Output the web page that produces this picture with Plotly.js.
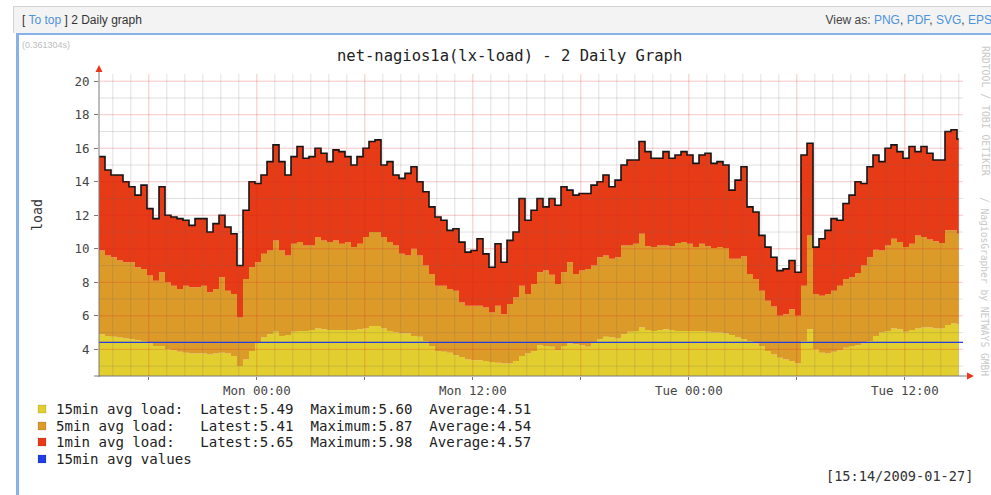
<!DOCTYPE html>
<html>
<head>
<meta charset="utf-8">
<script src="https://cdn.plot.ly/plotly-3.0.1.min.js"></script>
<style>
  html, body { margin:0; padding:0; background:#fff; width:991px; height:495px; overflow:hidden; }
  #bar { position:absolute; left:13px; top:6px; width:978px; height:26px; background:#f3f3f3;
         border-top:1px solid #d4d4d4; border-left:1px solid #d4d4d4;
         font-family:"Liberation Sans", Arial, sans-serif; font-size:12px; color:#333; }
  #bar .l { position:absolute; left:8px; top:6px; white-space:nowrap; }
  #bar .r { position:absolute; right:0px; top:6px; white-space:nowrap; color:#444; }
  #bar a { color:#4d94dd; text-decoration:none; }
  #panel { position:absolute; left:16px; top:33px; width:975px; height:462px;
           border-left:3px solid #86b2e8; border-top:2px solid #86b2e8; background:#fff; }
  #secs { position:absolute; left:22px; top:40px; font-family:"Liberation Sans", Arial, sans-serif;
          font-size:9px; color:#bdbdbd; }
  #chart { position:absolute; left:0; top:0; width:991px; height:495px; }
</style>
</head>
<body>
<div id="bar"><span class="l">[ <a>To top</a> ] 2 Daily graph</span><span class="r">View as: <a>PNG</a>, <a>PDF</a>, <a>SVG</a>, <a>EPS</a></span></div>
<div id="panel"></div>
<div id="secs">(0.361304s)</div>
<div id="chart"></div>
<script>
// ---------------- data ----------------
// 20-minute steps starting at the left edge of the graph
const startTime   = '2009-01-25 15:14';
const endTime     = '2009-01-27 15:14';
const lastDataEnd = '2009-01-27 15:00';
const stepMinutes = 20;

// 15min avg load (bottom of stack)
const load15 = [
  4.9, 4.8, 4.75, 4.7, 4.65, 4.6, 4.55, 4.5, 4.35, 4.2,
  4.2, 4.0, 3.95, 3.85, 3.8, 3.75, 3.75, 3.75, 3.7, 3.75,
  3.8, 3.75, 3.6, 3.0, 3.4, 3.9, 4.4, 4.7, 4.9, 5.05,
  4.8, 4.85, 5.05, 5.1, 5.1, 5.15, 5.25, 5.2, 5.15, 5.15,
  5.15, 5.15, 5.15, 5.2, 5.25, 5.4, 5.4, 5.25, 5.1, 5.0,
  4.95, 4.95, 4.8, 4.75, 4.5, 4.2, 3.9, 3.85, 3.8, 3.65,
  3.55, 3.4, 3.35, 3.35, 3.3, 3.25, 3.2, 3.15, 3.15, 3.3,
  3.6, 3.75, 3.9, 4.25, 4.2, 4.15, 3.95, 4.2, 4.35, 4.3,
  4.25, 4.15, 4.4, 4.6, 4.75, 4.7, 4.65, 4.9, 5.05, 5.1,
  5.3, 5.15, 5.1, 5.15, 5.2, 5.15, 5.1, 5.1, 5.1, 5.1,
  5.1, 5.05, 5.0, 5.0, 4.95, 4.85, 4.7, 4.6, 4.5, 4.35,
  4.2, 3.9, 3.7, 3.5, 3.4, 3.3, 3.15, 4.5, 5.2, 4.0,
  3.8, 3.75, 3.85, 3.95, 4.1, 4.2, 4.25, 4.35, 4.5, 4.8,
  5.0, 5.1, 5.25, 5.2, 5.05, 5.15, 5.25, 5.3, 5.3, 5.25,
  5.25, 5.45, 5.55, 5.49
];
// 5min avg load (stacked on 15min)
const load5 = [
  5.0, 4.8, 4.75, 4.6, 4.55, 4.6, 4.35, 4.3, 4.05, 3.9,
  4.4, 4.0, 3.85, 3.75, 4.0, 3.95, 3.95, 4.05, 3.7, 3.85,
  4.5, 3.75, 3.7, 2.9, 4.8, 5.0, 4.8, 5.0, 5.0, 5.45,
  5.1, 4.75, 5.25, 5.3, 5.1, 5.05, 5.45, 5.3, 5.25, 5.35,
  5.15, 5.25, 4.95, 5.1, 5.45, 5.6, 5.6, 5.45, 5.3, 5.2,
  4.75, 4.65, 5.2, 4.85, 4.5, 4.3, 3.9, 3.95, 3.8, 3.85,
  3.25, 3.2, 3.25, 3.25, 3.2, 2.95, 3.4, 2.95, 3.55, 3.8,
  4.2, 3.55, 4.0, 4.35, 4.5, 4.3, 3.95, 4.4, 4.85, 4.2,
  4.45, 4.65, 4.6, 4.9, 4.85, 4.7, 4.85, 5.3, 5.15, 5.2,
  5.6, 5.0, 5.0, 5.05, 5.0, 5.0, 5.25, 5.3, 5.2, 5.0,
  5.2, 5.1, 5.05, 5.1, 5.1, 4.55, 4.7, 4.95, 4.0, 3.85,
  3.3, 3.0, 2.85, 2.5, 2.7, 3.1, 2.85, 3.3, 5.6, 3.3,
  3.4, 3.55, 3.65, 3.85, 4.1, 4.1, 4.3, 4.65, 5.0, 5.15,
  4.9, 5.1, 5.35, 5.2, 5.05, 5.15, 5.55, 5.4, 5.25, 5.2,
  5.1, 5.65, 5.55, 5.41
];
// 1min avg load (top of stack)
const load1 = [
  5.6, 5.1, 4.9, 5.1, 4.8, 4.5, 4.3, 5.0, 4.0, 3.7,
  5.1, 4.0, 4.1, 4.2, 3.9, 3.7, 4.1, 4.0, 3.6, 3.9,
  3.7, 3.8, 3.6, 3.1, 4.1, 5.1, 4.7, 4.7, 5.3, 5.7,
  5.3, 4.8, 5.2, 5.7, 5.2, 5.3, 5.3, 5.2, 4.8, 5.4,
  5.5, 5.1, 4.9, 5.2, 5.3, 5.4, 5.5, 4.3, 4.8, 4.2,
  4.5, 4.9, 4.9, 4.4, 4.4, 4.0, 4.1, 3.9, 3.5, 3.7,
  3.6, 3.2, 3.3, 4.0, 3.2, 2.7, 3.7, 3.1, 3.8, 3.9,
  5.2, 4.4, 4.4, 4.4, 3.8, 4.55, 4.7, 5.1, 4.3, 4.7,
  4.6, 4.5, 4.8, 4.5, 4.8, 4.3, 4.6, 4.8, 5.1, 5.0,
  5.5, 5.65, 5.3, 5.2, 5.6, 5.25, 5.25, 5.4, 5.3, 5.0,
  5.3, 5.55, 5.05, 5.1, 4.95, 4.1, 4.7, 5.35, 4.0, 4.0,
  3.3, 3.2, 2.95, 2.7, 2.7, 2.9, 2.6, 7.8, 5.5, 2.8,
  3.4, 3.8, 4.3, 3.9, 4.5, 4.9, 5.45, 4.9, 5.4, 5.65,
  5.3, 5.8, 5.6, 5.4, 5.3, 5.8, 5.0, 5.4, 5.15, 4.85,
  4.95, 5.9, 6.0, 5.65
];
const hruleName  = '15min avg values';
const hruleValue = 4.42;

const seriesNames = ['15min avg load:', '5min avg load:', '1min avg load:'];
const latest  = [5.49, 5.41, 5.65];
const maximum = [5.60, 5.87, 5.98];
const average = [4.51, 4.54, 4.57];

const chartTitle = 'net-nagios1a(lx-load) - 2 Daily Graph';
const yTitle = 'load';
const stamp = '[15:14/2009-01-27]';
const watermark1 = 'RRDTOOL / TOBI OETIKER';
const watermark2 = '/ NagiosGrapher by NETWAYS GMBH';

// ---------------- styling ----------------
const C15 = '#e3ce2f', C5 = '#dc9a29', C1 = '#e73a16', CBLUE = '#1f3ee6';
const MONO = 'DejaVu Sans Mono, monospace';
const W = 991, H = 495, L = 99, R = 963, T = 74, B = 376;
const px = x => (x - L) / (R - L);
const py = y => (B - y) / (B - T);

function parse(s) {
  const [d, t] = s.split(' ');
  const [Y, M, D] = d.split('-').map(Number);
  const [h, m] = t.split(':').map(Number);
  return Date.UTC(Y, M - 1, D, h, m);
}
function fmt(ms) {
  const d = new Date(ms), p = n => String(n).padStart(2, '0');
  return d.getUTCFullYear() + '-' + p(d.getUTCMonth() + 1) + '-' + p(d.getUTCDate()) +
         ' ' + p(d.getUTCHours()) + ':' + p(d.getUTCMinutes());
}
const t0 = parse(startTime), tEnd = parse(endTime);
const times = load15.map((_, i) => fmt(t0 + i * stepMinutes * 60000));
const xs = times.concat([lastDataEnd]);           // closes the last step
const closeStep = a => a.concat([a[a.length - 1]]);

const traces = [
  { x: xs, y: closeStep(load15), type: 'scatter', mode: 'lines', stackgroup: 'load',
    line: { shape: 'hv', width: 0, color: C15 }, fillcolor: C15, hoverinfo: 'skip' },
  { x: xs, y: closeStep(load5), type: 'scatter', mode: 'lines', stackgroup: 'load',
    line: { shape: 'hv', width: 0, color: C5 }, fillcolor: C5, hoverinfo: 'skip' },
  { x: xs, y: closeStep(load1), type: 'scatter', mode: 'lines', stackgroup: 'load',
    line: { shape: 'hv', width: 1.6, color: '#151515' }, fillcolor: C1, hoverinfo: 'skip' },
  { x: [startTime, endTime], y: [hruleValue, hruleValue], type: 'scatter', mode: 'lines',
    line: { width: 1.3, color: CBLUE }, hoverinfo: 'skip' }
];

// grid drawn above the areas, as rrdtool does
const shapes = [];
const minorCol = 'rgba(105,105,105,0.20)', majorCol = 'rgba(225,35,35,0.26)';
for (let ms = Math.ceil(t0 / 3600000) * 3600000; ms < tEnd; ms += 3600000) {
  const h = new Date(ms).getUTCHours();
  shapes.push({ type: 'line', xref: 'x', yref: 'paper', x0: fmt(ms), x1: fmt(ms), y0: 0, y1: 1,
                layer: 'above', line: { color: h % 6 === 0 ? majorCol : minorCol, width: 1 } });
}
for (let v = 3; v <= 20; v++) {
  shapes.push({ type: 'line', xref: 'paper', yref: 'y', x0: 0, x1: 1, y0: v, y1: v,
                layer: 'above', line: { color: v % 2 === 0 ? majorCol : minorCol, width: 1 } });
}
// axes with arrows
shapes.push({ type: 'line', xref: 'paper', yref: 'paper', x0: 0, x1: 0, y0: py(377), y1: py(71),
              layer: 'above', line: { color: '#7a7a7a', width: 1 } });
shapes.push({ type: 'line', xref: 'paper', yref: 'paper', x0: px(94), x1: px(968), y0: 0, y1: 0,
              layer: 'above', line: { color: '#7a7a7a', width: 1 } });
shapes.push({ type: 'path', xref: 'paper', yref: 'paper', layer: 'above',
              path: `M ${px(99)},${py(65)} L ${px(95.5)},${py(72)} L ${px(102.5)},${py(72)} Z`,
              fillcolor: '#e8361a', line: { width: 0 } });
shapes.push({ type: 'path', xref: 'paper', yref: 'paper', layer: 'above',
              path: `M ${px(974)},${py(376)} L ${px(967)},${py(372.5)} L ${px(967)},${py(379.5)} Z`,
              fillcolor: '#e8361a', line: { width: 0 } });

// legend swatches + text
const annotations = [];
const rowY = [409, 426, 442, 459];
const swatchCols = [C15, C5, C1, CBLUE];
const nb = s => s.replace(/ /g, '\u00a0');
const rows = seriesNames.map((n, i) =>
  n.padEnd(17) + 'Latest:' + latest[i].toFixed(2) + '  ' +
  'Maximum:' + maximum[i].toFixed(2) + '  ' + 'Average:' + average[i].toFixed(2));
rows.push(hruleName);
rows.forEach((txt, i) => {
  shapes.push({ type: 'rect', xref: 'paper', yref: 'paper',
                x0: px(38), x1: px(46), y0: py(rowY[i] + 4), y1: py(rowY[i] - 4),
                fillcolor: swatchCols[i], line: { color: 'rgba(0,0,0,0.12)', width: 1 } });
  annotations.push({ xref: 'paper', yref: 'paper', x: px(54), y: py(rowY[i]),
                     xanchor: 'left', yanchor: 'middle', showarrow: false, text: nb(txt),
                     font: { family: MONO, size: 14.1, color: '#222' } });
});
annotations.push({ xref: 'paper', yref: 'paper', x: px(509), y: py(56), xanchor: 'center',
                   yanchor: 'middle', showarrow: false, text: chartTitle,
                   font: { family: MONO, size: 15.5, color: '#222' } });
annotations.push({ xref: 'paper', yref: 'paper', x: px(37), y: py(215), xanchor: 'center',
                   yanchor: 'middle', showarrow: false, text: yTitle, textangle: -90,
                   font: { family: MONO, size: 13.3, color: '#333' } });
annotations.push({ xref: 'paper', yref: 'paper', x: px(975), y: py(476), xanchor: 'right',
                   yanchor: 'middle', showarrow: false, text: stamp,
                   font: { family: MONO, size: 13.6, color: '#333' } });
annotations.push({ xref: 'paper', yref: 'paper', x: px(985), y: py(111), xanchor: 'center',
                   yanchor: 'middle', showarrow: false, text: watermark1, textangle: 90,
                   font: { family: MONO, size: 9.8, color: '#c9c9c9' } });
annotations.push({ xref: 'paper', yref: 'paper', x: px(985), y: py(286), xanchor: 'center',
                   yanchor: 'middle', showarrow: false, text: watermark2, textangle: 90,
                   font: { family: MONO, size: 9.6, color: '#c9c9c9' } });

const tickFont = { family: MONO, size: 12.5, color: '#444' };
const layout = {
  width: W, height: H,
  margin: { l: L, r: W - R, t: T, b: H - B, pad: 0 },
  paper_bgcolor: 'rgba(0,0,0,0)', plot_bgcolor: 'rgba(0,0,0,0)',
  showlegend: false,
  xaxis: { type: 'date', range: [startTime, endTime], showgrid: false, zeroline: false,
           showline: false, ticks: 'outside', ticklen: 3, tickcolor: '#7a7a7a',
           tick0: '2009-01-26 00:00', dtick: 12 * 3600000, tickformat: '%a %H:%M',
           tickfont: tickFont,
           minor: { dtick: 6 * 3600000, ticks: 'outside', ticklen: 3, tickcolor: '#7a7a7a', showgrid: false } },
  yaxis: { range: [2.41, 20.43], showgrid: false, zeroline: false, showline: false,
           ticks: 'outside', ticklen: 4, tickcolor: '#7a7a7a', tick0: 0, dtick: 2,
           tickfont: tickFont, ticklabelstandoff: 2 },
  shapes: shapes, annotations: annotations
};
Plotly.newPlot('chart', traces, layout, { displayModeBar: false, staticPlot: true });
</script>
</body>
</html>
